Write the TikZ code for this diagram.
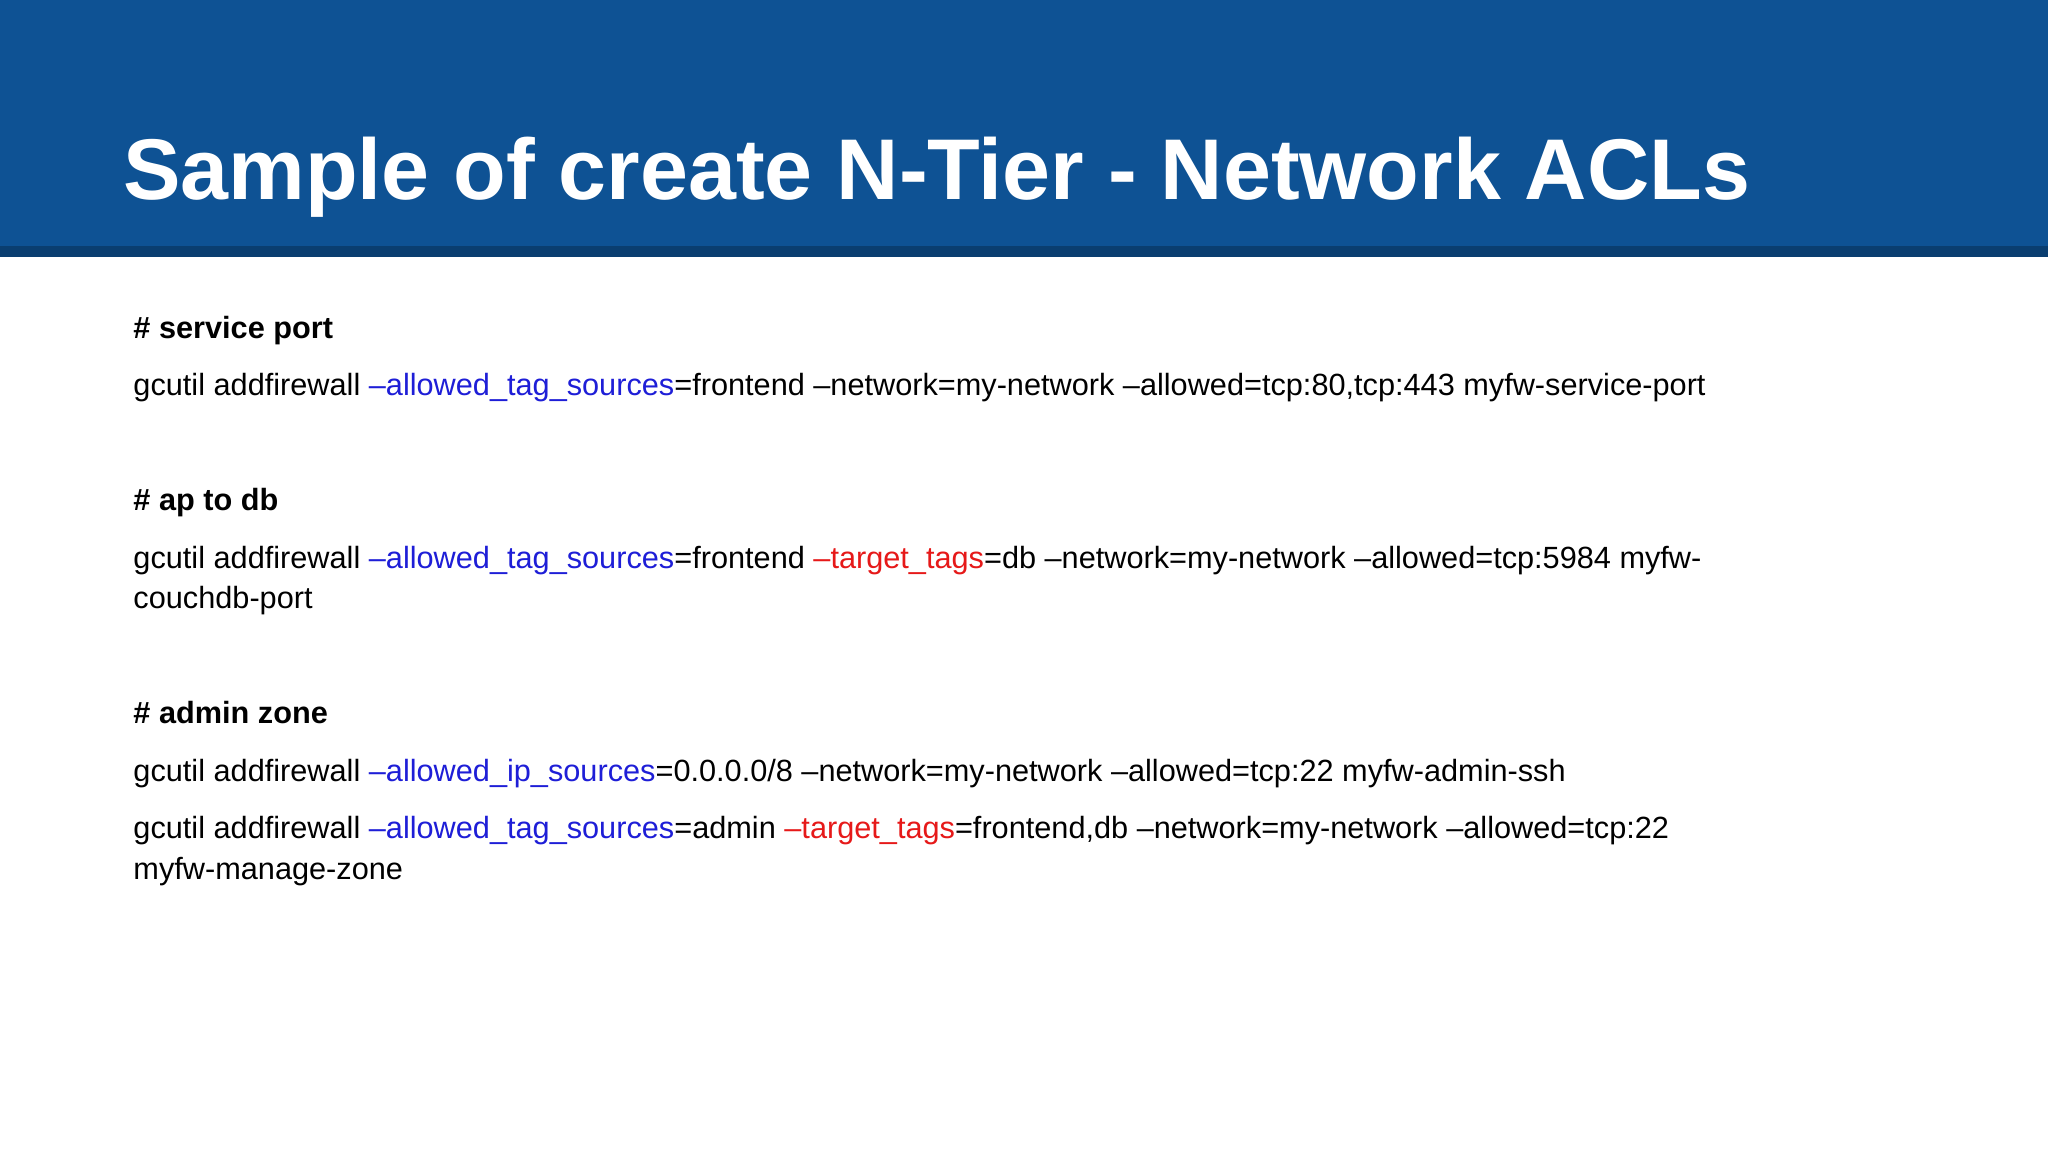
\documentclass[tikz,border=0pt]{standalone}
\usepackage{fontspec}
\setmainfont{Liberation Sans}
\definecolor{banner}{RGB}{14,82,148}
\definecolor{bannerdark}{RGB}{10,62,112}
\definecolor{cblue}{RGB}{30,30,215}
\definecolor{cred}{RGB}{230,25,25}
\begin{document}
\begin{tikzpicture}[x=1pt,y=-1pt,
  title/.style={anchor=base west,inner sep=0,font=\fontsize{66}{70}\selectfont\bfseries,text=white},
  head/.style={anchor=base west,inner sep=0,font=\fontsize{23.5}{28}\selectfont\bfseries},
  body/.style={anchor=base west,inner sep=0,font=\fontsize{23.5}{28}\selectfont}]
\useasboundingbox (0,0) rectangle (1568,882);
\fill[white] (0,0) rectangle (1568,882);
\fill[banner] (0,0) rectangle (1568,190);
\fill[bannerdark] (0,188) rectangle (1568,197);
\node[title] (t) at (94,153) {Sample of create N-Tier - Network ACLs};
\node[head] (h1) at (102,259) {\# service port};
\node[body] (l1) at (102,303) {gcutil addfirewall \textcolor{cblue}{--allowed\_tag\_sources}=frontend --network=my-network --allowed=tcp:80,tcp:443 myfw-service-port};
\node[head] (h2) at (102,391) {\# ap to db};
\node[body] (l2) at (102,435) {gcutil addfirewall \textcolor{cblue}{--allowed\_tag\_sources}=frontend \textcolor{cred}{--target\_tags}=db --network=my-network --allowed=tcp:5984 myfw-};
\node[body] (l2b) at (102,466) {couchdb-port};
\node[head] (h3) at (102,554) {\# admin zone};
\node[body] (l3) at (102,598) {gcutil addfirewall \textcolor{cblue}{--allowed\_ip\_sources}=0.0.0.0/8 --network=my-network --allowed=tcp:22 myfw-admin-ssh};
\node[body] (l4) at (102,642) {gcutil addfirewall \textcolor{cblue}{--allowed\_tag\_sources}=admin \textcolor{cred}{--target\_tags}=frontend,db --network=my-network --allowed=tcp:22};
\node[body] (l4b) at (102,673) {myfw-manage-zone};
\end{tikzpicture}
\end{document}
